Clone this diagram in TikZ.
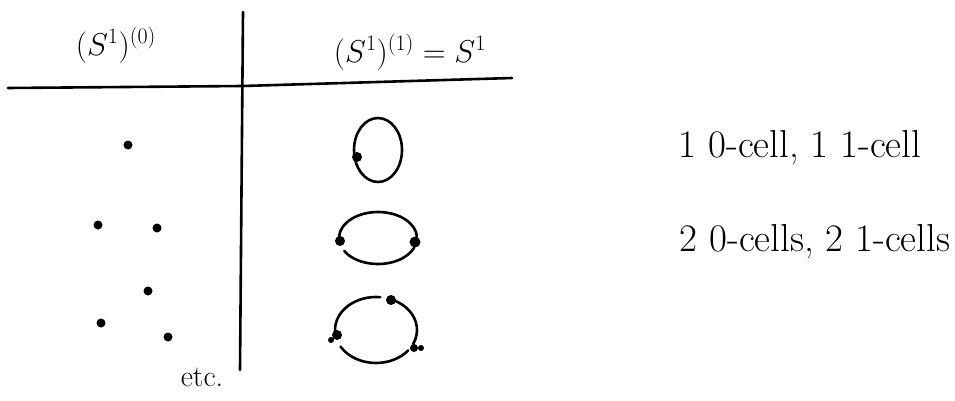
\documentclass[tikz,border=0pt]{standalone}
\usepackage{amsmath,amssymb}
\usepackage{graphicx}
\usepackage{tikz}
\usetikzlibrary{calc,positioning}
\newcommand{\hdr}[1]{\scalebox{1.27}{$#1$}}
\tikzset{hand/.style={font=\fontsize{24}{28}\selectfont},
  etcnote/.style={font=\fontsize{30}{34}\selectfont},
  cellnote/.style={font=\fontsize{39}{44}\selectfont}}

\begin{document}
\begin{tikzpicture}[x=1pt,y=-1pt,line width=2.6pt,line cap=round]
  \useasboundingbox (0,0) rectangle (955,401);
  % table lines
  \draw (8,88) -- (243,86) -- (512,78);
  \draw (243,12) -- (240,370);
  \node[hand] (h0) at (116,45) {\hdr{(S^1)^{(0)}}};
  \node[hand] (h1) at (410,52) {\hdr{(S^1)^{(1)} = S^1}};
  % 0-skeletons
  \foreach \x/\y in {128/145,98/225,157/228,148/291,101/323,168/337} {\fill (\x,\y) circle (4.5);}
  \node[etcnote] (etc) at (202,377) {etc.};
  % 1-skeletons
  \draw (378,150) ellipse (24 and 32);
  \fill (357,157) circle (5);
  \coordinate (c2) at (378,238);
  \draw (c2) ++(183:39 and 26) arc[start angle=183,end angle=357,x radius=39,y radius=26];
  \draw (c2) ++(150:39 and 26) arc[start angle=150,end angle=22,x radius=39,y radius=26];
  \fill (340,241) circle (5) (415,242) circle (5.5);
  \coordinate (c3) at (376,330);
  \draw (c3) ++(168:41 and 33) arc[start angle=168,end angle=276,x radius=41,y radius=33];
  \draw (c3) ++(294:41 and 33) arc[start angle=294,end angle=385,x radius=41,y radius=33];
  \draw (c3) ++(150:41 and 33) arc[start angle=150,end angle=38,x radius=41,y radius=33];
  \fill (337,335) circle (5) (331,340) circle (3) (391,300) circle (5)
        (414,348) circle (4) (421,348) circle (3);
  % counts
  \node[cellnote] (n1) at (800,148) {1 0-cell, 1 1-cell};
  \node[cellnote] (n2) at (815,242) {2 0-cells, 2 1-cells};
\end{tikzpicture}
\end{document}
